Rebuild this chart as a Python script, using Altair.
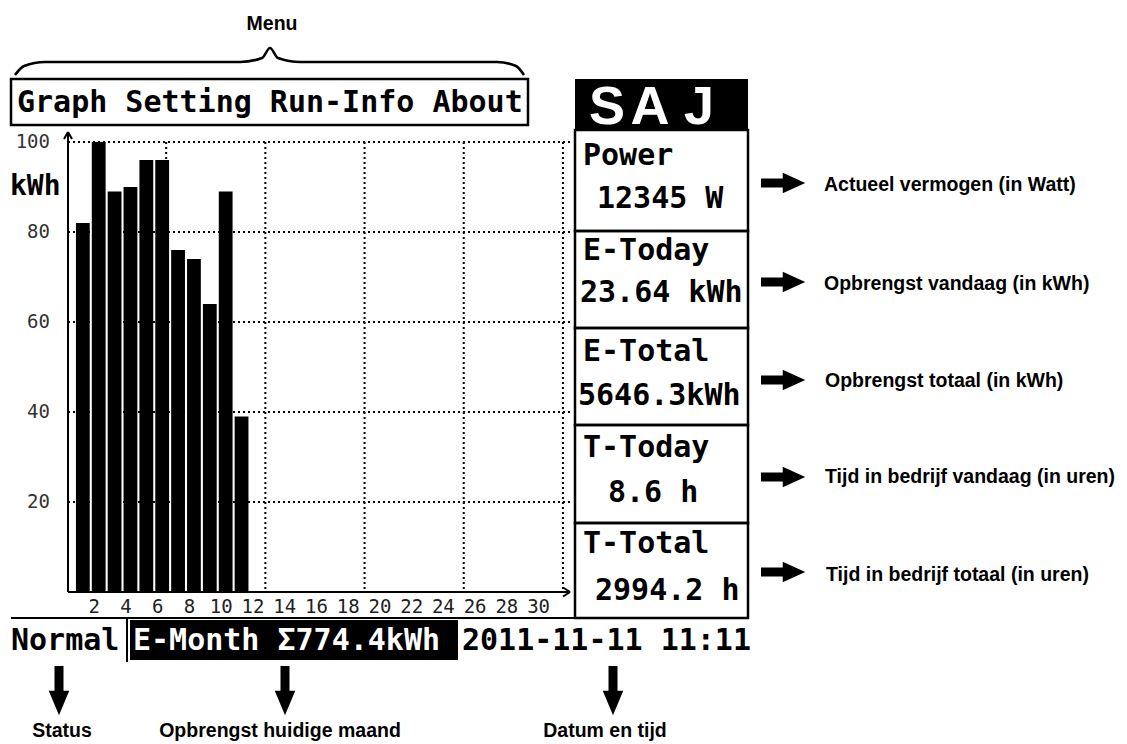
import altair as alt
import pandas as pd

# ---------------- data ----------------
days = [1, 2, 3, 4, 5, 6, 7, 8, 9, 10, 11]
kwh = [82, 100, 89, 90, 96, 96, 76, 74, 64, 89, 39]
x_tick_days = list(range(2, 31, 2))
y_tick_values = [20, 40, 60, 80, 100]
x_grid_days = [6.25, 12.5, 18.75, 25.0, 31.25]

menu_text = "Graph Setting Run-Info About"
unit_text = "kWh"
panel_titles = ["Power", "E-Today", "E-Total", "T-Today", "T-Total"]
panel_values = ["12345 W", "23.64 kWh", "5646.3kWh", "8.6 h", "2994.2 h"]
status_text = "Normal"
month_text = "E-Month \u03a3774.4kWh"
datetime_text = "2011-11-11 11:11"
logo_letters = ["S", "A", "J"]
menu_note = "Menu"
right_notes = [
    "Actueel vermogen (in Watt)",
    "Opbrengst vandaag (in kWh)",
    "Opbrengst totaal (in kWh)",
    "Tijd in bedrijf vandaag (in uren)",
    "Tijd in bedrijf totaal (in uren)",
]
bottom_notes = ["Status", "Opbrengst huidige maand", "Datum en tijd"]

# ---------------- layout (screen pixels) ----------------
PLOT_L, PLOT_R = 68, 570
PLOT_T, PLOT_B = 142, 592
W = PLOT_R - PLOT_L
H = PLOT_B - PLOT_T

LCD = "DejaVu Sans Mono"
SANS = "Liberation Sans"

# ---------------- bar chart with its own scales ----------------
xs = alt.Scale(domain=[0.38, 31.38], nice=False, zero=False)
ys = alt.Scale(domain=[0, 100], nice=False)
x_axis = alt.Axis(values=x_tick_days, title=None, ticks=False, domain=False, grid=False,
                  labelFont=LCD, labelFontSize=19, labelColor="#222", labelPadding=5,
                  labelOffset=-5, labelOverlap=False, labelFlush=False)
y_axis = alt.Axis(values=y_tick_values, title=None, ticks=False, domain=False, grid=True,
                  gridColor="black", gridDash=[2, 3], gridWidth=2, gridOpacity=1, translate=0,
                  labelFont=LCD, labelFontSize=19, labelColor="#333", labelPadding=18)

bars_df = pd.DataFrame({"day": days, "kwh": kwh})
grid_df = pd.DataFrame({"day": x_grid_days})

vgrid = alt.Chart(grid_df).mark_rule(color="black", strokeWidth=2, strokeDash=[2, 3]).encode(
    x=alt.X("day:Q", scale=xs, axis=x_axis)
)
bars = alt.Chart(bars_df).mark_bar(color="black", size=13.8).encode(
    x=alt.X("day:Q", scale=xs, axis=x_axis),
    y=alt.Y("kwh:Q", scale=ys, axis=y_axis),
)
chart_layer = alt.layer(vgrid, bars)

# ---------------- decoration in screen-pixel scales ----------------
px = alt.Scale(domain=[PLOT_L, PLOT_R], nice=False, zero=False)
py = alt.Scale(domain=[PLOT_T, PLOT_B], nice=False, zero=False, reverse=True)


def X(f):
    return alt.X(f + ":Q", scale=px, axis=None)


def Y(f):
    return alt.Y(f + ":Q", scale=py, axis=None)


def X2(f):
    return alt.X2(f + ":Q")


def Y2(f):
    return alt.Y2(f + ":Q")


# outlined boxes
box_df = pd.DataFrame({
    "x": [11, 575, 575, 575, 575, 575],
    "x2": [528, 748, 748, 748, 748, 748],
    "y": [79, 130, 231, 328, 425, 523],
    "y2": [125, 231, 328, 425, 523, 618],
})
boxes = alt.Chart(box_df).mark_rect(fillOpacity=0, stroke="black", strokeWidth=2.5).encode(
    x=X("x"), x2=X2("x2"), y=Y("y"), y2=Y2("y2"))

# filled black boxes
fill_df = pd.DataFrame({"x": [575, 130], "x2": [748, 458], "y": [79, 620], "y2": [130, 660]})
fills = alt.Chart(fill_df).mark_rect(color="black").encode(
    x=X("x"), x2=X2("x2"), y=Y("y"), y2=Y2("y2"))

# thin lines: separators, axes, axis arrow heads
line_df = pd.DataFrame({
    "x": [11, 127, 68, 68, 64, 72, 563, 563],
    "x2": [575, 127, 68, 569, 68, 68, 570, 570],
    "y": [618, 618, 133, 592, 139, 139, 587.5, 596.5],
    "y2": [618, 662, 592, 592, 132, 132, 592, 592],
})
lines = alt.Chart(line_df).mark_rule(color="black", strokeWidth=2).encode(
    x=X("x"), x2=X2("x2"), y=Y("y"), y2=Y2("y2"))

# block arrows: shafts
r_arrow_y = [183, 282, 380, 477, 572]
d_arrow_x = [59, 285, 613]
shaft_df = pd.DataFrame({
    "x": [761] * 5 + d_arrow_x,
    "x2": [786] * 5 + d_arrow_x,
    "y": r_arrow_y + [666] * 3,
    "y2": r_arrow_y + [693] * 3,
})
shafts = alt.Chart(shaft_df).mark_rule(color="black", strokeWidth=9).encode(
    x=X("x"), x2=X2("x2"), y=Y("y"), y2=Y2("y2"))

rhead_df = pd.DataFrame({"x": [794] * 5, "y": r_arrow_y})
rheads = alt.Chart(rhead_df).mark_point(
    shape="M-1.1,-1L1.1,0L-1.1,1Z", size=420, filled=True, color="black", opacity=1
).encode(x=X("x"), y=Y("y"))
dhead_df = pd.DataFrame({"x": d_arrow_x, "y": [703] * 3})
dheads = alt.Chart(dhead_df).mark_point(
    shape="M-1,-1.2L1,-1.2L0,1.2Z", size=420, filled=True, color="black", opacity=1
).encode(x=X("x"), y=Y("y"))

# curly brace above the menu
brace_df = pd.DataFrame({
    "i": list(range(11)),
    "x": [15, 24, 45, 240, 262, 270, 278, 300, 497, 516, 524],
    "y": [75, 66, 62, 62, 58, 48, 58, 62, 62, 66, 75],
})
brace = alt.Chart(brace_df).mark_line(color="black", strokeWidth=2.5, interpolate="monotone").encode(
    x=X("x"), y=Y("y"), order="i:Q")

# LCD texts
lcd_df = pd.DataFrame({
    "x": [17] + [583] * 5 + [597, 580, 578, 608, 595] + [11, 462],
    "y": [112] + [165, 260, 361, 457, 553] + [208, 302, 405, 502, 600] + [650, 650],
    "t": [menu_text] + panel_titles + panel_values + [status_text, datetime_text],
})
lcd = alt.Chart(lcd_df).mark_text(
    align="left", baseline="alphabetic", font=LCD, fontSize=30, fontWeight="bold", color="black"
).encode(x=X("x"), y=Y("y"), text="t:N")

month = alt.Chart(pd.DataFrame({"x": [133], "y": [650], "t": [month_text]})).mark_text(
    align="left", baseline="alphabetic", font=LCD, fontSize=30, fontWeight="bold", color="white"
).encode(x=X("x"), y=Y("y"), text="t:N")

unit = alt.Chart(pd.DataFrame({"x": [10], "y": [195], "t": [unit_text]})).mark_text(
    align="left", baseline="alphabetic", font=LCD, fontSize=28, fontWeight="bold", color="black"
).encode(x=X("x"), y=Y("y"), text="t:N")

logo = alt.Chart(pd.DataFrame({"x": [607, 650, 699], "y": [124] * 3, "t": logo_letters})).mark_text(
    align="center", baseline="alphabetic", font=SANS, fontSize=54, fontWeight="bold", color="white"
).encode(x=X("x"), y=Y("y"), text="t:N")

# annotation texts
rnote = alt.Chart(pd.DataFrame({
    "x": [824, 824, 825, 825, 826],
    "y": [190.5, 290, 387, 483, 580.5],
    "t": right_notes,
})).mark_text(align="left", baseline="alphabetic", font=SANS, fontSize=19.5, fontWeight="bold",
              color="black").encode(x=X("x"), y=Y("y"), text="t:N")

cnote = alt.Chart(pd.DataFrame({
    "x": [62, 280, 605, 272],
    "y": [737, 737, 737, 30],
    "t": bottom_notes + [menu_note],
})).mark_text(align="center", baseline="alphabetic", font=SANS, fontSize=19.5, fontWeight="bold",
              color="black").encode(x=X("x"), y=Y("y"), text="t:N")

deco_layer = alt.layer(fills, boxes, lines, shafts, rheads, dheads, brace,
                       lcd, month, unit, logo, rnote, cnote)

chart = alt.layer(chart_layer, deco_layer).resolve_scale(
    x="independent", y="independent"
).properties(
    width=W, height=H,
    padding={"left": PLOT_L - 8, "top": PLOT_T - 8, "right": 1119 - PLOT_R, "bottom": 744 - PLOT_B},
    autosize=alt.AutoSizeParams(type="none"),
    background="white",
).configure_view(strokeWidth=0)

chart.save("out.html", embed_options={"renderer": "svg", "actions": False})
